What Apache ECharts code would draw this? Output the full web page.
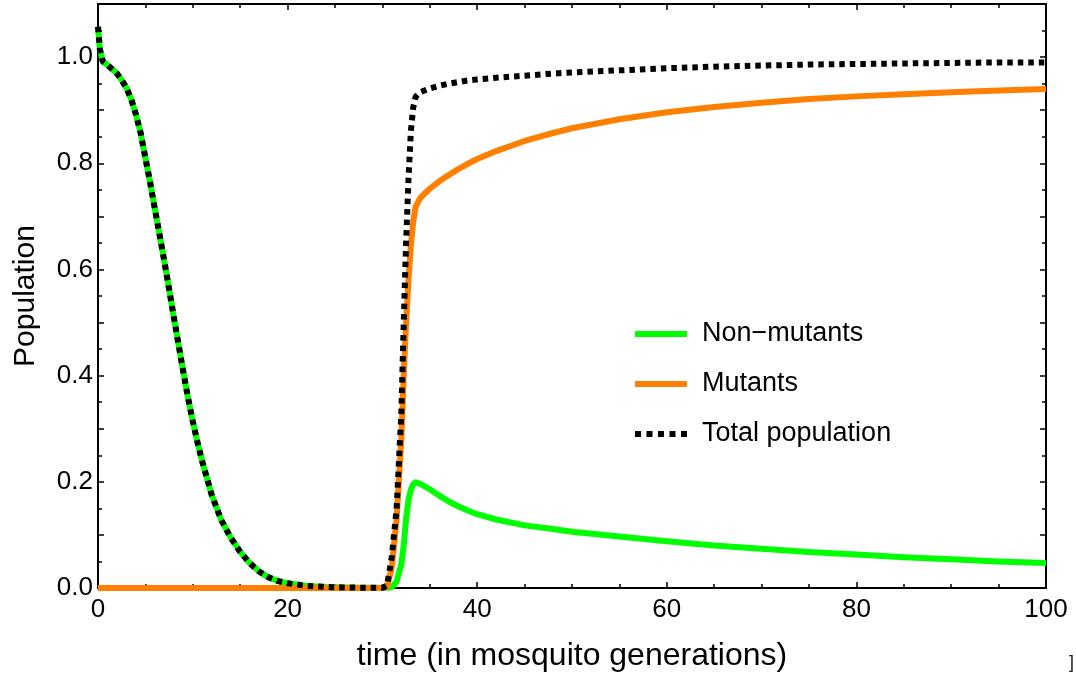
<!DOCTYPE html>
<html><head><meta charset="utf-8">
<script src="https://cdn.jsdelivr.net/npm/echarts@6/dist/echarts.min.js"></script>
<style>html,body{margin:0;padding:0;background:#fff}#c{width:1076px;height:679px}</style>
</head><body><div id="c"></div>
<script>
const seriesNames = ['Non\u2212mutants', 'Mutants', 'Total population'];
const xAxisTitle = 'time (in mosquito generations)';
const yAxisTitle = 'Population';
const xTickLabels = [0, 20, 40, 60, 80, 100];
const yTickLabels = ['0.0', '0.2', '0.4', '0.6', '0.8', '1.0'];

const time = [0, 0.2, 0.5, 1, 1.5, 2, 2.5, 3, 3.5, 4, 4.5, 5, 5.5, 6, 6.5, 7, 7.5, 8, 8.5, 9, 9.5, 10, 10.5, 11, 12, 13, 14, 15, 16, 17, 18, 19, 20, 22, 24, 26, 28, 30,
  30.5, 31, 31.5, 32, 32.25, 32.5, 32.75, 33, 33.25, 33.5, 34, 35, 36, 37, 38, 39, 40, 42, 45, 48, 50, 55, 60, 65, 70, 75, 80, 85, 90, 95, 100];

const nonMutants = [1.057, 1.015, 0.992, 0.985, 0.977, 0.969, 0.957, 0.942, 0.921, 0.892, 0.857, 0.81, 0.764, 0.714, 0.665, 0.615, 0.563, 0.51, 0.458, 0.407, 0.358, 0.314, 0.274, 0.238, 0.175, 0.128, 0.095, 0.068, 0.047, 0.031, 0.02, 0.013, 0.009, 0.004, 0.002, 0.001, 0.0006, 0.0003,
  0.0003, 0.002, 0.012, 0.045, 0.08, 0.13, 0.165, 0.185, 0.195, 0.199, 0.196, 0.186, 0.174, 0.163, 0.154, 0.146, 0.139, 0.129, 0.118, 0.111, 0.106, 0.097, 0.088, 0.08, 0.074, 0.068, 0.063, 0.058, 0.054, 0.05, 0.047];

const mutants = [0, 0, 0, 0, 0, 0, 0, 0, 0, 0, 0, 0, 0, 0, 0, 0, 0, 0, 0, 0, 0, 0, 0, 0, 0, 0, 0, 0, 0, 0, 0, 0, 0, 0, 0, 0, 0, 0,
  0.002, 0.04, 0.13, 0.28, 0.4, 0.5, 0.58, 0.645, 0.69, 0.718, 0.735, 0.752, 0.766, 0.778, 0.789, 0.799, 0.808, 0.823, 0.842, 0.857, 0.866, 0.883, 0.896, 0.906, 0.914, 0.921, 0.926, 0.93, 0.934, 0.937, 0.94];

const totalPopulation = [1.057, 1.015, 0.992, 0.985, 0.977, 0.969, 0.957, 0.942, 0.921, 0.892, 0.857, 0.81, 0.764, 0.714, 0.665, 0.615, 0.563, 0.51, 0.458, 0.407, 0.358, 0.314, 0.274, 0.238, 0.175, 0.128, 0.095, 0.068, 0.047, 0.031, 0.02, 0.013, 0.009, 0.004, 0.002, 0.001, 0.0006, 0.0003,
  0.005, 0.06, 0.15, 0.33, 0.5, 0.65, 0.77, 0.86, 0.905, 0.925, 0.934, 0.941, 0.946, 0.95, 0.953, 0.956, 0.958, 0.961, 0.965, 0.969, 0.971, 0.975, 0.979, 0.982, 0.984, 0.986, 0.987, 0.988, 0.989, 0.99, 0.99];

const FONT = '"Liberation Sans", Arial, sans-serif';
const pairs = arr => time.map((t, i) => [t, arr[i]]);

const chart = echarts.init(document.getElementById('c'), null, {renderer: 'canvas'});

function xAxisCfg(pos, labels) {
  return {
    type: 'value', position: pos, min: 0, max: 100, interval: 20,
    axisLine: {show: true, onZero: false, lineStyle: {color: '#000', width: 2}},
    axisTick: {show: true, inside: true, length: 6, lineStyle: {color: '#000', width: 1.5}},
    minorTick: {show: true, splitNumber: 4, length: 4, lineStyle: {color: '#000', width: 1.5}},
    splitLine: {show: false}, minorSplitLine: {show: false},
    axisLabel: labels ? {show: true, fontSize: 26, fontFamily: FONT, color: '#000', margin: 9,
      formatter: v => (xTickLabels.indexOf(v) >= 0 ? String(v) : '')} : {show: false},
    name: labels ? xAxisTitle : '', nameLocation: 'middle', nameGap: 52,
    nameTextStyle: {fontSize: 32, fontFamily: FONT, color: '#000'}
  };
}
function yAxisCfg(pos, labels) {
  return {
    type: 'value', position: pos, min: 0, max: 1.1, interval: 0.1,
    axisLine: {show: true, onZero: false, lineStyle: {color: '#000', width: 2}},
    axisTick: {show: true, inside: true, length: 6, lineStyle: {color: '#000', width: 1.5}},
    minorTick: {show: true, splitNumber: 2, length: 4, lineStyle: {color: '#000', width: 1.5}},
    splitLine: {show: false}, minorSplitLine: {show: false},
    axisLabel: labels ? {show: true, fontSize: 26, fontFamily: FONT, color: '#000', margin: 5,
      formatter: v => { const s = v.toFixed(1); return yTickLabels.indexOf(s) >= 0 ? s : ''; }} : {show: false},
    name: labels ? yAxisTitle : '', nameLocation: 'middle', nameGap: 57,
    nameTextStyle: {fontSize: 30, fontFamily: FONT, color: '#000'}
  };
}

const colors = ['#00ff00', '#ff8000', '#000000'];
const dataSets = [nonMutants, mutants, totalPopulation];
const solidIcon = 'path://M0,0L52,0L52,6L0,6Z';
const dotIcon = 'path://M0,0h6v6h-6zM11.5,0h6v6h-6zM23,0h6v6h-6zM34.5,0h6v6h-6zM46,0h6v6h-6z';
const legendIcons = [solidIcon, solidIcon, dotIcon];

chart.setOption({
  animation: false,
  backgroundColor: '#fff',
  grid: {left: 98, right: 30, top: 4, bottom: 91, containLabel: false},
  xAxis: [xAxisCfg('bottom', true), xAxisCfg('top', false)],
  yAxis: [yAxisCfg('left', true), yAxisCfg('right', false)],
  legend: {
    orient: 'vertical', left: 635, top: 319, padding: 0, itemGap: 20,
    itemWidth: 52, itemHeight: 6,
    data: seriesNames.map((n, i) => ({name: n, icon: legendIcons[i], itemStyle: {color: colors[i]}})),
    textStyle: {fontSize: 27, fontFamily: FONT, color: '#000', lineHeight: 30, padding: [0, 0, 0, 10]}
  },
  graphic: [{
    type: 'text', left: 1069, top: 654,
    style: {text: ']', fontSize: 18, fontFamily: FONT, fill: '#222'}
  }],
  series: seriesNames.map((name, i) => ({
    name, type: 'line', xAxisIndex: 0, yAxisIndex: 0,
    data: pairs(dataSets[i]),
    showSymbol: false, symbol: 'none',
    smooth: false,
    color: colors[i],
    lineStyle: i === 2
      ? {color: colors[i], width: 6, type: [5.5, 5], cap: 'butt'}
      : {color: colors[i], width: 6, join: 'round'},
    z: 2 + i
  }))
});
</script>
</body></html>
